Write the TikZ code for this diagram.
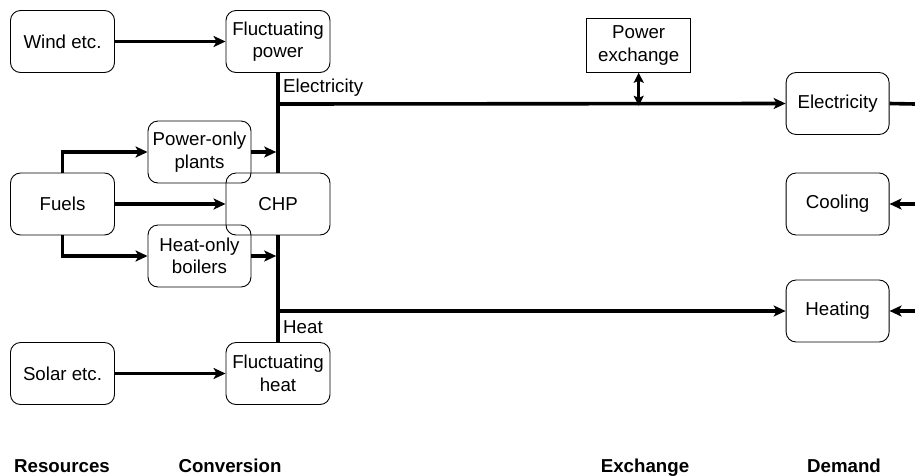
\documentclass[tikz,border=0pt]{standalone}
\usepackage{fontspec}
\setmainfont{Liberation Sans}
\usetikzlibrary{arrows.meta}
\begin{document}
\begin{tikzpicture}[x=1pt,y=-1pt,
  box/.style={draw, line width=0.9pt, rounded corners=10pt, minimum width=104pt, minimum height=62pt, align=center, inner sep=0pt, font=\fontsize{18.7}{22.5}\selectfont},
  sqbox/.style={box, rounded corners=0pt, minimum height=54pt},
  flow/.style={line width=3.6pt},
  arr/.style={flow, -{Stealth[length=12pt,width=11pt,inset=3pt]}},
  lbl/.style={font=\fontsize{18.7}{22}\selectfont, inner sep=0pt},
  head/.style={font=\fontsize{18.7}{22}\selectfont\bfseries, inner sep=0pt, anchor=base}]
\useasboundingbox (0,0) rectangle (915,475);
% nodes
\node[box] (wind) at (62.5,41.5) {Wind etc.};
\node[box] (fp) at (278,41.5) {Fluctuating\\power};
\node[box, minimum width=103pt] (po) at (199.5,152) {Power-only\\plants};
\node[box] (fuels) at (62.5,204) {Fuels};
\node[box] (chp) at (278,204) {CHP};
\node[box, minimum width=103pt] (ho) at (199.5,256) {Heat-only\\boilers};
\node[box] (solar) at (62.5,373.5) {Solar etc.};
\node[box] (fh) at (278,373.5) {Fluctuating\\heat};
\node[sqbox] (px) at (638.7,45.3) {Power\\exchange};
\node[box, minimum width=103pt] (del) at (837.6,103.5) {Electricity};
\node[box, minimum width=103pt] (dco) at (837.6,204) {Cooling};
\node[box, minimum width=103pt] (dhe) at (837.6,311) {Heating};
% labels
\node[lbl, anchor=west] (lel) at (283,88) {Electricity};
\node[lbl, anchor=west] (lhe) at (283,327) {Heat};
\node[head] (hres) at (62,472) {Resources};
\node[head] (hcon) at (230,472) {Conversion};
\node[head] (hexc) at (645,472) {Exchange};
\node[head] (hdem) at (844,472) {Demand};
% junction coordinates
\coordinate (ej) at (278,104);
\coordinate (hj) at (278,311);
\coordinate (pxj) at (638.7,104);
\coordinate (poin) at (276.2,152);
\coordinate (hoin) at (276.2,256);
\coordinate (rel) at (915,104);
\coordinate (rco) at (915,204);
\coordinate (rhe) at (915,311);
% connectors
\draw[arr] (wind.east) -- (fp.west);
\draw[arr] (solar.east) -- (fh.west);
\draw[arr] (fuels.east) -- (chp.west);
\draw[arr] (fuels.north) |- (po.west);
\draw[arr] (fuels.south) |- (ho.west);
\draw[arr] (po.east) -- (poin);
\draw[arr] (ho.east) -- (hoin);
\draw[flow] (fp.south) -- (chp.north);
\draw[flow] (chp.south) -- (fh.north);
\draw[arr] ([xshift=-1.8pt]ej) -- (del.west);
\draw[arr] ([xshift=-1.8pt]hj) -- (dhe.west);
\draw[line width=3pt, {Stealth[length=10pt,width=10pt,inset=2pt]}-{Stealth[length=10pt,width=10pt,inset=2pt]}] (px.south) -- ([yshift=-1.8pt]pxj);
\draw[flow] (del.east) -- (rel);
\draw[arr] (rco) -- (dco.east);
\draw[arr] (rhe) -- (dhe.east);
\end{tikzpicture}
\end{document}
